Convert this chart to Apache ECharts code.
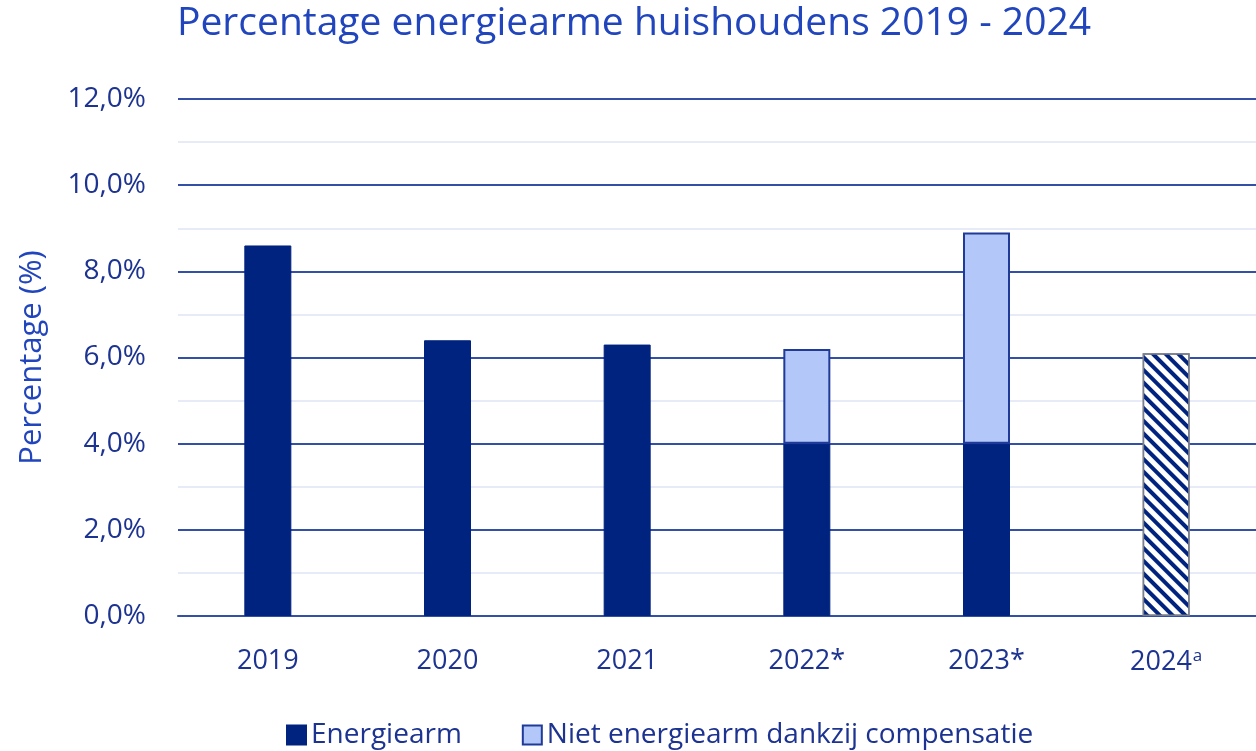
<!DOCTYPE html>
<html>
<head>
<meta charset="utf-8">
<script src="https://cdn.jsdelivr.net/npm/echarts@6/dist/echarts.min.js"></script>
<style>
  html, body { margin: 0; padding: 0; background: #fff; }
  #chart { width: 1256px; height: 751px; }
</style>
</head>
<body>
<div id="chart"></div>
<script>
const years = ['2019', '2020', '2021', '2022*', '2023*', '2024ᵃ']
const energiearm = [8.6, 6.4, 6.3, 4.0, 4.0, 6.1]
const compensatie = ['-', '-', '-', 2.2, 4.9, '-']
const hatchedIndex = 5

const dark = '#00237f'
const light = '#b3c8f8'
const textBlue = '#1c3391'
const lineBlue = '#3450a6'
const font = 'Open Sans'

const chart = echarts.init(document.getElementById('chart'))

const energiearmData = energiearm.map((v, i) => {
  if (i !== hatchedIndex) return v
  return {
    value: v,
    itemStyle: {
      color: '#ffffff',
      borderColor: '#7a7f8c',
      borderWidth: 1.5,
      decal: {
        symbol: 'rect',
        color: dark,
        dashArrayX: [1, 0],
        dashArrayY: [4, 5],
        rotation: Math.PI / 4,
      },
    },
  }
})

chart.setOption({
  animation: false,
  title: {
    text: 'Percentage energiearme huishoudens 2019 - 2024',
    left: 172,
    top: -1,
    textStyle: { color: '#2145bd', fontSize: 39, fontWeight: 'normal', fontFamily: font },
  },
  legend: {
    bottom: -3,
    left: 281,
    itemGap: 60,
    itemWidth: 19,
    itemHeight: 19,
    icon: 'rect',
    textStyle: { color: textBlue, fontSize: 28, fontFamily: font },
    data: ['Energiearm', 'Niet energiearm dankzij compensatie'],
  },
  grid: {
    left: 178,
    right: 0,
    top: 99,
    bottom: 135,
  },
  xAxis: {
    type: 'category',
    data: years,
    axisLine: { lineStyle: { color: lineBlue, width: 2 } },
    axisTick: { show: false },
    axisLabel: {
      interval: 0,
      color: textBlue,
      fontSize: 27,
      margin: 32,
      fontFamily: font,
      formatter: (v) => v.replace('ᵃ', '{sup|a}'),
      rich: {
        sup: { fontSize: 17, verticalAlign: 'top', color: textBlue, fontFamily: font, padding: [0, 0, 12, 1] },
      },
    },
  },
  yAxis: {
    type: 'value',
    min: 0,
    max: 12,
    interval: 2,
    name: 'Percentage (%)',
    nameLocation: 'middle',
    nameGap: 130,
    nameTextStyle: { color: '#2145bd', fontSize: 31, fontFamily: font },
    axisLine: { show: false },
    axisTick: { show: false },
    axisLabel: {
      color: textBlue,
      fontSize: 28,
      margin: 32,
      fontFamily: font,
      formatter: (v) => v.toFixed(1).replace('.', ',') + '%',
    },
    splitLine: { lineStyle: { color: lineBlue, width: 2 } },
    minorTick: { show: false, splitNumber: 2 },
    minorSplitLine: { show: true, lineStyle: { color: '#e6ebf7', width: 2 } },
  },
  series: [
    {
      name: 'Energiearm',
      type: 'bar',
      stack: 'total',
      barWidth: 47,
      data: energiearmData,
      itemStyle: { color: dark, borderColor: dark, borderWidth: 1 },
    },
    {
      name: 'Niet energiearm dankzij compensatie',
      type: 'bar',
      stack: 'total',
      barWidth: 47,
      data: compensatie,
      itemStyle: { color: light, borderColor: '#1f3a99', borderWidth: 2 },
    },
  ],
})
</script>
</body>
</html>
